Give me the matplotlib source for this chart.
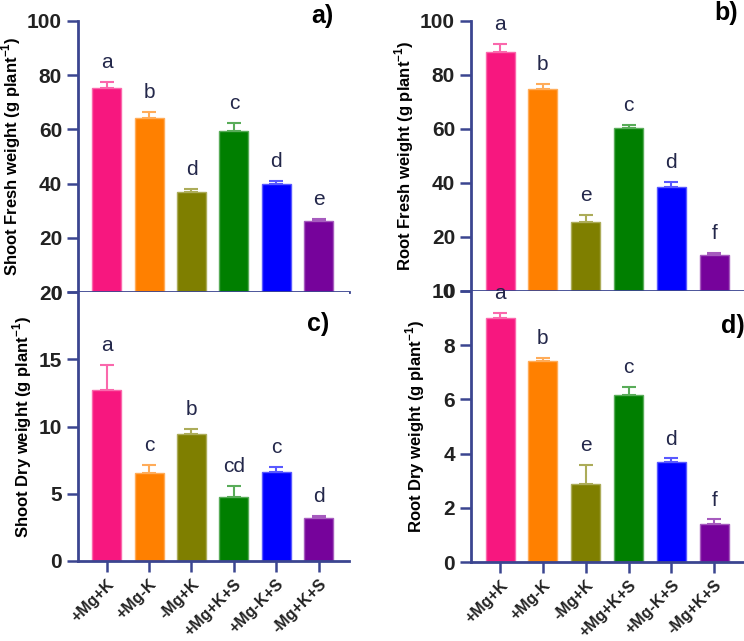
import matplotlib
matplotlib.use("Agg")
import matplotlib.pyplot as plt
import matplotlib.colors as mcolors
import numpy as np

plt.rcParams['font.family'] = ['Liberation Sans', 'DejaVu Sans']
plt.rcParams['mathtext.fontset'] = 'custom'
plt.rcParams['mathtext.bf'] = 'Liberation Sans:bold'
plt.rcParams['mathtext.rm'] = 'Liberation Sans'

treatments = ['+Mg+K', '+Mg-K', '-Mg+K', '+Mg+K+S', '+Mg-K+S', '-Mg+K+S']
bar_colors = ['#F7177F', '#FF8000', '#7F7F00', '#007F00', '#0000FF', '#76039B']

shoot_fresh = [75.4, 64.3, 36.8, 59.5, 39.7, 26.1]
shoot_fresh_err = [2.2, 2.2, 1.2, 2.8, 1.4, 0.8]
shoot_fresh_sig = ['a', 'b', 'd', 'c', 'd', 'e']

root_fresh = [88.4, 74.8, 25.4, 60.5, 38.4, 13.2]
root_fresh_err = [3.2, 1.9, 2.9, 0.9, 2.0, 0.9]
root_fresh_sig = ['a', 'b', 'e', 'c', 'd', 'f']

shoot_dry = [12.75, 6.57, 9.45, 4.75, 6.59, 3.16]
shoot_dry_err = [1.8, 0.6, 0.4, 0.8, 0.42, 0.22]
shoot_dry_sig = ['a', 'c', 'b', 'cd', 'c', 'd']

root_dry = [9.0, 7.41, 2.89, 6.17, 3.69, 1.41]
root_dry_err = [0.2, 0.12, 0.7, 0.28, 0.13, 0.16]
root_dry_sig = ['a', 'b', 'e', 'c', 'd', 'f']

axis_color = '#3B4590'
letter_color = '#23274A'

fig = plt.figure(figsize=(7.44, 6.41), dpi=100)

W, H = 744.0, 641.0
def place(left, top, right, bottom):
    return fig.add_axes([left / W, 1 - bottom / H, (right - left) / W, (bottom - top) / H])

ax_a = place(78, 21, 349, 292)
ax_b = place(471, 21, 745, 291)
ax_c = place(78, 292, 349, 561)
ax_d = place(471, 291, 745, 562)

def lighter(c, f=0.35):
    rgb = np.array(mcolors.to_rgb(c))
    return tuple(rgb + (1 - rgb) * f)

def panel(ax, vals, errs, sig, ylim, yticks, ylabel, tag, tag_xy, show_xlabels):
    x = np.arange(len(vals))
    for i in range(len(vals)):
        ec = lighter(bar_colors[i])
        ax.bar(x[i], vals[i], width=0.68, color=bar_colors[i], edgecolor=ec,
               linewidth=1.0, zorder=2)
        ax.errorbar(x[i], vals[i], yerr=[[0], [errs[i]]], fmt='none',
                    ecolor=ec, elinewidth=1.5, capsize=5, capthick=1.5, zorder=1)
        ax.annotate(sig[i], (x[i], vals[i] + errs[i]), xytext=(0, 10),
                    textcoords='offset points', ha='center', va='baseline',
                    fontsize=15, color=letter_color)
    ax.set_xlim(-0.68, 5.72)
    ax.set_ylim(*ylim)
    ax.set_yticks(yticks)
    ax.set_xticks(x)
    for s in ['top', 'right']:
        ax.spines[s].set_visible(False)
    for s in ['left', 'bottom']:
        ax.spines[s].set_color(axis_color)
        ax.spines[s].set_linewidth(2)
    ax.tick_params(axis='both', direction='out', length=8, width=1.8,
                   color=axis_color, labelcolor='#222222')
    ax.tick_params(axis='x', pad=3)
    for lab in ax.get_yticklabels():
        lab.set_fontsize(15)
        lab.set_fontweight('bold')
    if show_xlabels:
        ax.set_xticklabels(treatments, rotation=45, ha='right',
                           rotation_mode='anchor', fontsize=11.5, fontweight='bold')
    else:
        ax.set_xticklabels([])
    ax.set_ylabel(ylabel, fontsize=12, fontweight='bold', labelpad=3)
    ax.text(tag_xy[0], tag_xy[1], tag, transform=ax.transAxes, fontsize=18,
            fontweight='bold', ha='center', va='center', color='black')

panel(ax_a, shoot_fresh, shoot_fresh_err, shoot_fresh_sig, (0, 100),
      [0, 20, 40, 60, 80, 100], r'Shoot Fresh weight (g plant$^{\mathbf{-1}}$)',
      'a)', (0.9, 1.02), False)
panel(ax_b, root_fresh, root_fresh_err, root_fresh_sig, (0, 100),
      [0, 20, 40, 60, 80, 100], r'Root Fresh weight (g plant$^{\mathbf{-1}}$)',
      'b)', (0.93, 1.03), False)
panel(ax_c, shoot_dry, shoot_dry_err, shoot_dry_sig, (0, 20),
      [0, 5, 10, 15, 20], r'Shoot Dry weight (g plant$^{\mathbf{-1}}$)',
      'c)', (0.885, 0.88), True)
panel(ax_d, root_dry, root_dry_err, root_dry_sig, (0, 10),
      [0, 2, 4, 6, 8, 10], r'Root Dry weight (g plant$^{\mathbf{-1}}$)',
      'd)', (0.955, 0.87), True)

fig.savefig('out.png', dpi=100)
